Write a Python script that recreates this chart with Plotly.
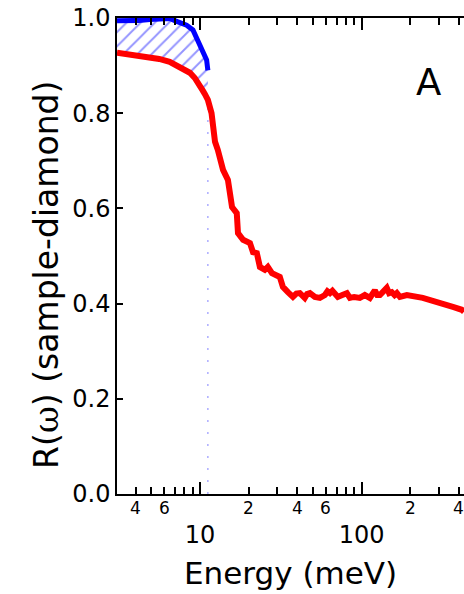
import math
import plotly.graph_objects as go

# Red curve: R(omega) of sample vs diamond
red_E = [3.07, 3.2, 3.6, 4.2, 4.9, 5.6, 6.5, 7.5, 8.2, 8.67, 9.3, 9.7, 10.0, 10.4, 10.74, 11.2,
         11.8, 12.4, 12.9, 13.9, 14.9, 15.8, 16.9, 17.2, 18.5, 20.4, 21.3, 22.5, 23.5, 25.2,
         26.3, 27.9, 31.2, 32.6, 35.0, 37.6, 39.5, 41.5, 44.5, 46.0, 47.9, 51.4, 55.2, 59.3,
         61.5, 63.7, 66.0, 68.4, 71.3, 76.0, 81.1, 84.7, 90.0, 97.5, 104.7, 112.5, 120.8,
         125.0, 129.8, 136.0, 143.2, 148.0, 153.8, 160.0, 165.2, 172.6, 190.6, 239, 305, 367,
         417, 430]
red_R = [0.927, 0.926, 0.924, 0.922, 0.919, 0.914, 0.908, 0.897, 0.889, 0.885, 0.874, 0.866,
         0.856, 0.848, 0.840, 0.828, 0.800, 0.740, 0.723, 0.681, 0.660, 0.603, 0.590, 0.548,
         0.534, 0.527, 0.508, 0.506, 0.477, 0.471, 0.477, 0.464, 0.456, 0.435, 0.424, 0.414,
         0.421, 0.422, 0.412, 0.420, 0.422, 0.414, 0.412, 0.418, 0.426, 0.422, 0.427, 0.421,
         0.414, 0.418, 0.422, 0.412, 0.414, 0.412, 0.418, 0.412, 0.428, 0.418, 0.418, 0.425,
         0.433, 0.422, 0.424, 0.418, 0.422, 0.414, 0.418, 0.412, 0.403, 0.393, 0.387, 0.383]

# Blue curve (low-energy extrapolation)
blue_E = [3.07, 3.6, 4.2, 4.9, 5.6, 6.5, 7.18, 7.7, 8.27, 9.05, 9.72, 10.44, 11.0, 11.2]
blue_R = [0.994, 0.994, 0.995, 0.997, 0.999, 0.999, 0.993, 0.990, 0.985, 0.975, 0.954, 0.933,
          0.912, 0.890]

cut_E = 11.2          # vertical dotted marker
cut_top = 0.845

major_ticks = [10, 100]
major_text = ["10", "100"]
minor_ticks = [3, 4, 5, 6, 7, 8, 9, 20, 30, 40, 50, 60, 70, 80, 90, 200, 300, 400]
minor_labels = {4: "4", 6: "6", 20: "2", 40: "4", 60: "6", 200: "2", 400: "4"}

FONT = "DejaVu Sans, Arial, sans-serif"

# hatched polygon between blue and red up to cut_E
red_low = [(e, r) for e, r in zip(red_E, red_R) if e <= cut_E]
poly_x = blue_E + [e for e, _ in reversed(red_low)]
poly_y = blue_R + [r for _, r in reversed(red_low)]

fig = go.Figure()
fig.add_trace(go.Scatter(x=[cut_E, cut_E], y=[0, cut_top], mode="lines",
                         line=dict(color="#a0a0ff", width=1.3, dash="2px,10px"),
                         showlegend=False, hoverinfo="skip"))
fig.add_trace(go.Scatter(x=poly_x, y=poly_y, mode="lines", fill="toself",
                         fillcolor="rgba(255,255,255,0)",
                         fillpattern=dict(shape="/", fgcolor="#2a2aff", bgcolor="rgba(255,255,255,0)",
                                          size=10, solidity=0.2, fillmode="overlay"),
                         line=dict(width=0, color="rgba(0,0,0,0)"),
                         showlegend=False, hoverinfo="skip"))
fig.add_trace(go.Scatter(x=red_E, y=red_R, mode="lines",
                         line=dict(color="#ff0000", width=6), showlegend=False))
fig.add_trace(go.Scatter(x=blue_E, y=blue_R, mode="lines",
                         line=dict(color="#0000ff", width=5), showlegend=False))

annotations = []
for v, t in minor_labels.items():
    annotations.append(dict(x=math.log10(v), y=0, xref="x", yref="paper", text=t,
                            showarrow=False, yanchor="middle", yshift=-14,
                            font=dict(family=FONT, size=17, color="black")))
annotations.append(dict(x=0.939, y=0.914, xref="paper", yref="paper", text="A",
                        showarrow=False, font=dict(family=FONT, size=37, color="black")))
annotations.append(dict(x=0.5, y=-0.165, xref="paper", yref="paper", text="Energy (meV)",
                        showarrow=False, yanchor="middle",
                        font=dict(family=FONT, size=31, color="black")))
annotations.append(dict(x=-0.205, y=0.46, xref="paper", yref="paper",
                        text="R(<span style=\"font-family:'DejaVu Serif'\">ω</span>) (sample-diamond)",
                        textangle=-90, showarrow=False, xanchor="center", yanchor="middle",
                        font=dict(family=FONT, size=33, color="black")))

fig.update_layout(
    width=464, height=594,
    margin=dict(l=117, r=0, t=18, b=100),
    paper_bgcolor="white", plot_bgcolor="white",
    font=dict(family=FONT, color="black"),
    annotations=annotations,
    xaxis=dict(type="log", range=[math.log10(3.07), math.log10(430)],
               showgrid=False, zeroline=False,
               showline=True, linecolor="black", linewidth=1.5, mirror="ticks",
               ticks="inside", ticklen=12, tickwidth=1.5, tickcolor="black",
               tickmode="array", tickvals=major_ticks, ticktext=major_text,
               tickfont=dict(family=FONT, size=24, color="black"),
               ticklabelstandoff=18,
               minor=dict(tickmode="array", tickvals=minor_ticks, ticks="inside",
                          ticklen=7, tickwidth=1.5, tickcolor="black", showgrid=False)),
    yaxis=dict(range=[0, 1.0], showgrid=False, zeroline=False,
               showline=True, linecolor="black", linewidth=1.5, mirror=False,
               ticks="inside", ticklen=6, tickwidth=1.5, tickcolor="black",
               tickmode="array", tickvals=[0, 0.2, 0.4, 0.6, 0.8, 1.0],
               tickformat=".1f", tickfont=dict(family=FONT, size=24, color="black")),
)

fig.write_html("out.html")
